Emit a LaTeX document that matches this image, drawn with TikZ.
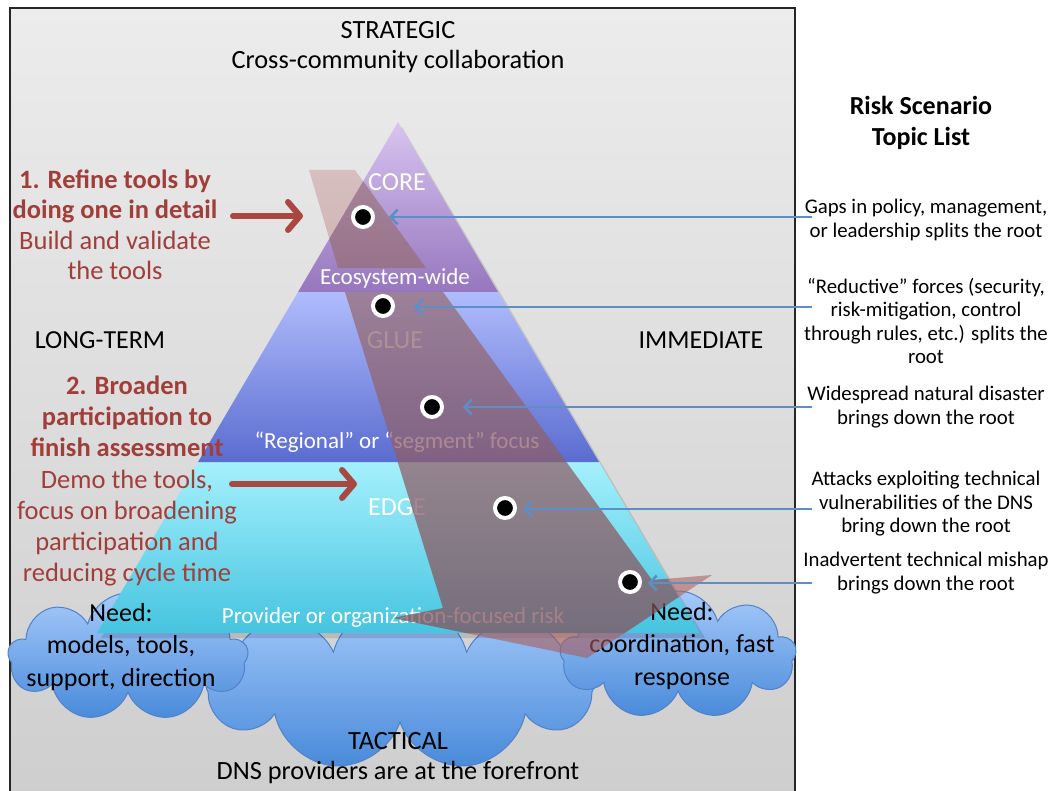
\documentclass[tikz,border=0pt]{standalone}
\usepackage{fontspec}
\setmainfont{Carlito}
\usetikzlibrary{shapes.symbols,arrows.meta}
\definecolor{bgtop}{RGB}{236,236,236}
\definecolor{bgbot}{RGB}{206,206,206}
\definecolor{putop}{RGB}{216,196,240}
\definecolor{pubot}{RGB}{150,118,190}
\definecolor{bltop}{RGB}{176,188,252}
\definecolor{blbot}{RGB}{90,108,208}
\definecolor{cytop}{RGB}{164,240,252}
\definecolor{cybot}{RGB}{70,196,224}
\definecolor{bandtop}{RGB}{205,165,165}
\definecolor{bandbot}{RGB}{170,90,90}
\definecolor{banddark}{RGB}{90,60,80}
\definecolor{cltop}{RGB}{166,202,250}
\definecolor{clbot}{RGB}{72,138,218}
\definecolor{clline}{RGB}{80,130,200}
\definecolor{arrblue}{RGB}{91,143,200}
\definecolor{darkred}{RGB}{160,62,58}
\definecolor{arrred}{RGB}{168,72,64}
\tikzset{
  cloudshape/.style={cloud, cloud puffs=9, cloud ignores aspect, draw=clline, line width=1pt,
    top color=cltop, bottom color=clbot, inner sep=0pt},
  dotnode/.style={circle, fill=black, draw=white, line width=4pt, minimum size=20pt, inner sep=0pt},
  bluearrow/.style={draw=arrblue, line width=2.5pt, -{Straight Barb[length=7pt,width=15pt,line width=2.5pt]}},
  redarrow/.style={draw=arrred, line width=6pt, line cap=round,
    -{Straight Barb[length=12pt,width=28pt,line width=6pt, round]}},
  headtxt/.style={font=\fontsize{26.3}{30}\selectfont, align=center, text=black},
  listtxt/.style={font=\fontsize{20.8}{23.5}\selectfont, align=center, text=black},
  redtxt/.style={font=\fontsize{26.5}{30.5}\selectfont, align=center, text=darkred},
  pyrtxt/.style={font=\fontsize{23}{26}\selectfont, text=white},
  pyrbig/.style={font=\fontsize{26}{28}\selectfont, text=white},
  needtxt/.style={font=\fontsize{26}{32.5}\selectfont, align=center, text=black},
}
\begin{document}
\begin{tikzpicture}[x=1pt,y=-1pt]
\useasboundingbox (0,0) rectangle (1052,791);
\fill[white] (0,0) rectangle (1052,791);
% background panel
\shade[top color=bgtop, bottom color=bgbot] (10,8) rectangle (795,800);
\draw[line width=1.5pt, black!85] (10,800) -- (10,8) -- (795,8) -- (795,800);

% clouds
\node[cloudshape, minimum width=385pt, minimum height=170pt] (cmid) at (400,686) {};
\node[cloudshape, minimum width=240pt, minimum height=128pt] (cleft) at (128,657) {};
\node[cloudshape, minimum width=236pt, minimum height=128pt] (cright) at (678,655) {};

% pyramid (soft shadow + layers)
\fill[black, opacity=0.12] (402,127) -- (705,638) -- (101,638) -- cycle;
\shade[top color=cytop, bottom color=cybot] (198,462) -- (599,462) -- (700,633) -- (97,633) -- cycle;
\shade[top color=bltop, bottom color=blbot] (298,292) -- (498,292) -- (599,462) -- (198,462) -- cycle;
\shade[top color=putop, bottom color=pubot] (398,122) -- (498,292) -- (298,292) -- cycle;

% pyramid labels
\node[pyrbig] (core) at (397,182) {CORE};
\node[pyrtxt] (eco) at (395,278) {Ecosystem-wide};
\node[pyrbig] (glue) at (395,340) {GLUE};
\node[pyrtxt] (reg) at (397,442) {“Regional” or “segment” focus};
\node[pyrbig] (edge) at (397,507) {EDGE};
\node[pyrtxt] (prov) at (393,617) {Provider or organization-focused risk};

% need texts
\node[needtxt] (needl) at (121,647) {Need:\\models, tools,\\support, direction};
\node[needtxt] (needr) at (682,646) {Need:\\coordination, fast\\response};

% translucent band
\shade[top color=bandtop, bottom color=bandbot, fill opacity=0.6]
  (309,170) -- (355,170) -- (426,268) -- (338,268) -- cycle
  (345,292) -- (443,292) -- (652,580) -- (712,575) -- (587,658) -- (393,618) -- (443,608) -- cycle;
\begin{scope}
  \clip (398,122) -- (700,633) -- (97,633) -- cycle;
  \fill[banddark, fill opacity=0.32]
    (309,170) -- (355,170) -- (426,268) -- (338,268) -- cycle
    (345,292) -- (443,292) -- (652,580) -- (712,575) -- (587,658) -- (393,618) -- (443,608) -- cycle;
\end{scope}

% headings
\node[headtxt] (strat) at (398,47) {STRATEGIC\\Cross-community collaboration};
\node[headtxt] (tact) at (398,758) {TACTICAL\\DNS providers are at the forefront};
\node[headtxt, font=\fontsize{26}{28}\selectfont] (long) at (100,340) {LONG-TERM};
\node[headtxt, font=\fontsize{26}{28}\selectfont] (imm) at (701,340) {IMMEDIATE};

% left red text
\node[redtxt] (step1) at (115,225) {\textbf{1. Refine tools by}\\\textbf{doing one in detail}\\Build and validate\\the tools};
\node[redtxt, font=\fontsize{26.5}{31.2}\selectfont] (step2) at (127,481) {\textbf{2. Broaden}\\\textbf{participation to}\\\textbf{finish assessment}\\Demo the tools,\\focus on broadening\\participation and\\reducing cycle time};

% red arrows
\coordinate (ra1s) at (233,216);
\coordinate (ra1e) at (303,216);
\coordinate (ra2s) at (232,484);
\coordinate (ra2e) at (357,484);
\draw[redarrow] (ra1s) -- (ra1e);
\draw[redarrow] (ra2s) -- (ra2e);

% right title and list
\node[font=\fontsize{26}{31}\selectfont\bfseries, align=center] (title) at (921,123) {Risk Scenario\\Topic List};
\node[listtxt] (r1) at (926,220) {Gaps in policy, management,\\or leadership splits the root};
\node[listtxt] (r2) at (926,321) {“Reductive” forces (security,\\risk-mitigation, control\\through rules, etc.) splits the\\root};
\node[listtxt] (r3) at (926,407) {Widespread natural disaster\\brings down the root};
\node[listtxt] (r4) at (926,504) {Attacks exploiting technical\\vulnerabilities of the DNS\\bring down the root};
\node[listtxt] (r5) at (926,573) {Inadvertent technical mishap\\brings down the root};

% dots
\node[dotnode] (d1) at (363,217) {};
\node[dotnode] (d2) at (383,306) {};
\node[dotnode] (d3) at (432,407) {};
\node[dotnode] (d4) at (505,508) {};
\node[dotnode] (d5) at (630,582) {};

% blue arrows
\coordinate (s1) at (812,217); \coordinate (t1) at (389,217);
\coordinate (s2) at (812,307); \coordinate (t2) at (414,307);
\coordinate (s3) at (812,407); \coordinate (t3) at (463,407);
\coordinate (s4) at (812,509); \coordinate (t4) at (523,509);
\coordinate (s5) at (812,583); \coordinate (t5) at (648,583);
\draw[bluearrow] (s1) -- (t1);
\draw[bluearrow] (s2) -- (t2);
\draw[bluearrow] (s3) -- (t3);
\draw[bluearrow] (s4) -- (t4);
\draw[bluearrow] (s5) -- (t5);
\end{tikzpicture}
\end{document}
